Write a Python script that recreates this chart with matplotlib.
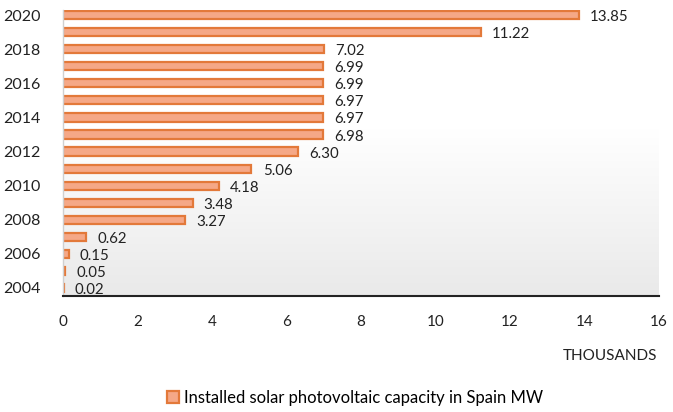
import matplotlib
matplotlib.use("Agg")
import matplotlib.pyplot as plt
import numpy as np

years = list(range(2004, 2021))
values = [0.02, 0.05, 0.15, 0.62, 3.27, 3.48, 4.18, 5.06, 6.30, 6.98, 6.97, 6.97, 6.99, 6.99, 7.02, 11.22, 13.85]
value_labels = ["0.02", "0.05", "0.15", "0.62", "3.27", "3.48", "4.18", "5.06", "6.30", "6.98", "6.97", "6.97", "6.99", "6.99", "7.02", "11.22", "13.85"]
xticks = [0, 2, 4, 6, 8, 10, 12, 14, 16]
legend_label = "Installed solar photovoltaic capacity in Spain MW"

plt.rcParams['font.family'] = ['Lato', 'DejaVu Sans']

fig = plt.figure(figsize=(6.73, 4.12), dpi=100)
ax = fig.add_axes([63/673, 1-296/412, (659-63)/673, (296-10)/412])

# gradient background
t = np.linspace(0, 1, 200)
vals = np.where(t < 0.42, 1.0, 1.0 - (t - 0.42) / 0.58 * 0.085)
img = np.dstack([vals, vals, vals]).reshape(200, 1, 3)
ax.imshow(img, extent=[0, 1, 0, 1], transform=ax.transAxes, aspect='auto', zorder=0, interpolation='bilinear')

pos = np.arange(len(years))
bars = ax.barh(pos, values, height=0.48, color='#f5a887', edgecolor='#e3793a', linewidth=1.6, zorder=2,
               label=legend_label)
for p, v, lab in zip(pos, values, value_labels):
    ax.text(v + 0.3, p - 0.12, lab, va='center', ha='left', fontsize=10.8, color='#222222', zorder=3)

ax.set_xlim(0, 16)
ax.set_ylim(-0.47, 16.3)
ax.set_xticks(xticks)
ax.set_xticklabels([str(x) for x in xticks], fontsize=11, color='#222222')
ax.set_yticks(pos[::2])
ax.set_yticklabels([str(y) for y in years[::2]], fontsize=11.5, color='#222222')
ax.tick_params(axis='both', length=0)
ax.tick_params(axis='x', pad=14)
ax.tick_params(axis='y', pad=16)

for s in ['top', 'right']:
    ax.spines[s].set_visible(False)
ax.spines['left'].set_color('#d0d0d0')
ax.spines['left'].set_linewidth(1.0)
ax.spines['bottom'].set_color('#222222')
ax.spines['bottom'].set_linewidth(1.5)

fig.text(657/673, 1-356/412, "THOUSANDS", ha='right', va='center', fontsize=11, color='#222222')

leg = fig.legend(handles=[bars], labels=[legend_label], loc='center', bbox_to_anchor=(355/673, 1-398/412),
                 frameon=False, fontsize=12, handlelength=0.75, handleheight=0.75, handletextpad=0.3)

fig.savefig("out.png", dpi=100)
